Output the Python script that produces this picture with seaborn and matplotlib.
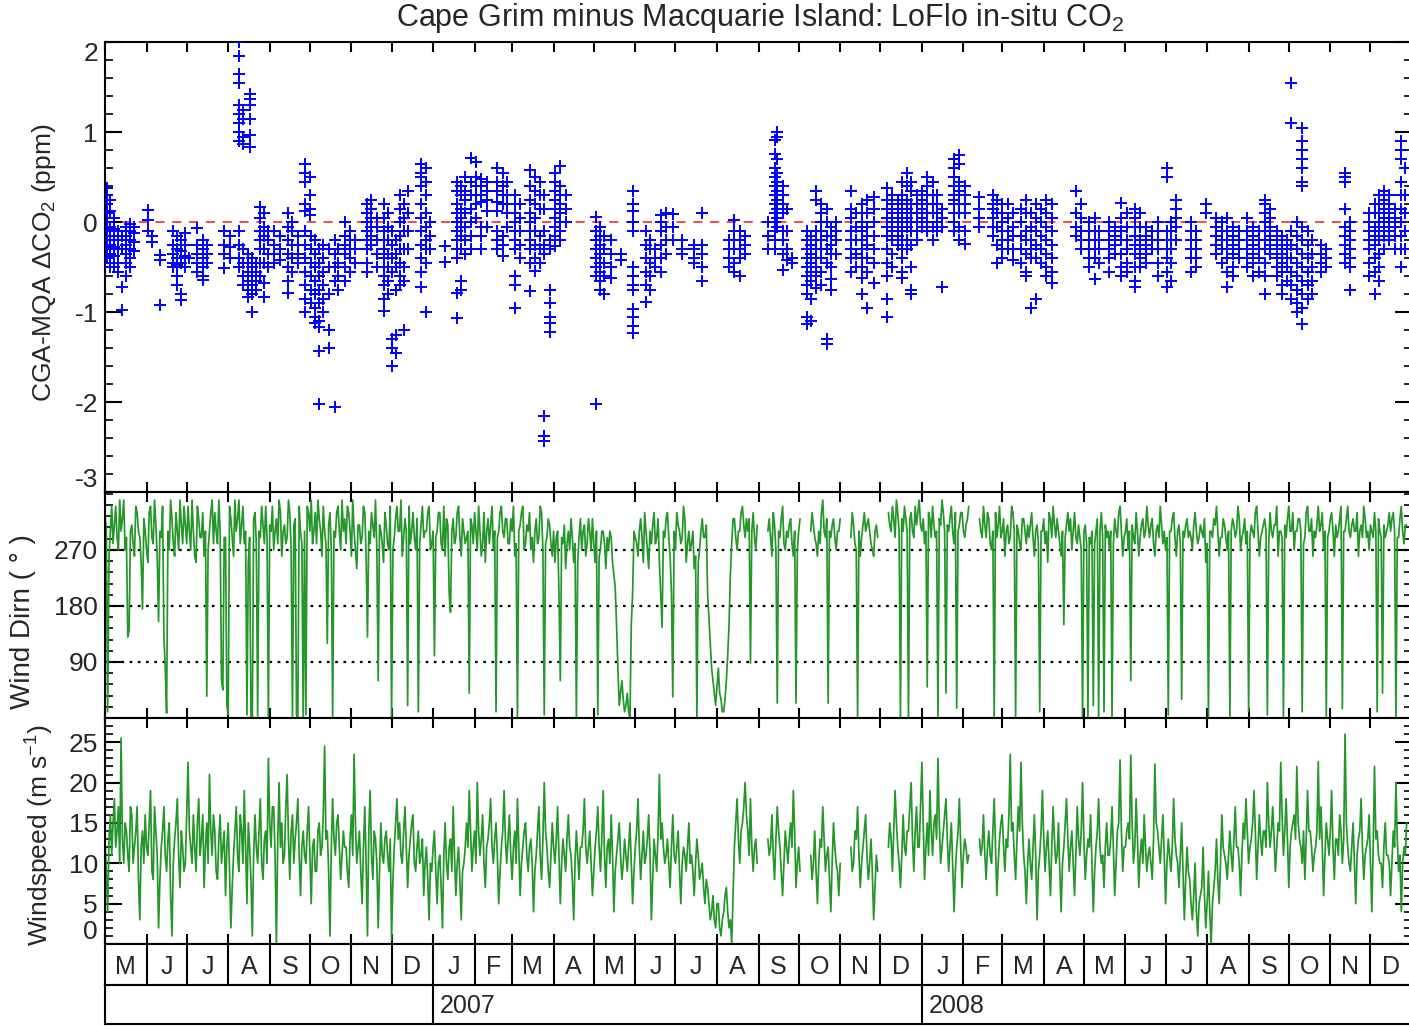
import numpy as np
import pandas as pd
import matplotlib
matplotlib.use("Agg")
import matplotlib.pyplot as plt
import seaborn as sns

# time axis: days since 1 May 2006, plot runs to 1 Jan 2009
start = pd.Timestamp("2006-05-01")
end = pd.Timestamp("2009-01-01")
month_letters = ["M", "J", "J", "A", "S", "O", "N", "D",
                 "J", "F", "M", "A", "M", "J", "J", "A", "S", "O", "N", "D",
                 "J", "F", "M", "A", "M", "J", "J", "A", "S", "O", "N", "D"]
year_labels = ["2007", "2008"]
year_starts = ["2007-01-01", "2008-01-01"]

# CO2 difference, columns of hourly values (day of column, ppm values)
co2_day = [1.5, 4, 7, 10, 12.5, 15.5, 18.5, 21.5, 32, 35, 41, 51, 54, 57, 60, 63, 69, 73, 76, 89, 93,
           100, 103, 107, 108, 110, 113, 116, 119, 122, 126, 130.5, 136.5, 140, 144, 149, 149.5, 153, 153.5,
           157, 160, 163, 167, 171.5, 174, 179, 183, 187, 196, 199, 203, 208, 211, 214, 217, 220, 223, 226,
           236, 239.5, 242.5, 254, 263, 266, 269, 273, 277, 281, 285, 292.5, 297, 300.5, 306, 310, 317, 321,
           325, 328, 332, 336, 339.5, 344, 367, 370, 373, 377.5, 385, 394, 404, 407, 411, 415, 419, 424, 431,
           440, 446, 466, 470, 474, 478, 495, 500, 502, 506, 509, 513, 524.5, 527.5, 531, 535, 539, 542.5,
           546, 557, 561, 565.5, 569, 574, 584, 588, 592, 595.5, 599, 602, 606, 610, 614, 618, 621.5, 625,
           634, 638, 642, 653, 663, 666, 670, 674, 678, 684, 688, 691.5, 695.5, 699, 703, 707, 725, 729,
           735, 739, 742.5, 750, 754, 759, 763, 769, 773, 777, 782, 786, 793, 796, 800, 811, 815, 822, 830,
           834, 838, 842, 847, 853, 857, 862, 866, 870, 875, 879, 883, 886, 890, 894, 898, 901.5, 908, 912,
           926, 930, 944, 948, 951.5, 955, 959, 963, 968, 971]
co2_ppm = [
    [0.38, 0.3, 0.2, 0.1, 0.0, -0.1, -0.2, -0.3, -0.4],
    [0.25, 0.12, -0.05, -0.15, -0.25, -0.35, -0.45, -0.5],
    [0.05, -0.08, -0.2, -0.28, -0.38, -0.5, -0.3],
    [-0.1, -0.2, -0.3, -0.45, -0.55],
    [-0.72, -0.98, -0.3, -0.15],
    [-0.05, -0.15, -0.25, -0.35, -0.45, -0.6],
    [-0.02, -0.1, -0.2, -0.3, -0.4, -0.5],
    [-0.05, -0.12, -0.22, -0.32],
    [0.13, 0.02, -0.1],
    [-0.15, -0.22],
    [-0.37, -0.42, -0.92],
    [-0.1, -0.25, -0.35, -0.45, -0.5],
    [-0.15, -0.3, -0.4, -0.48, -0.6, -0.7],
    [-0.2, -0.32, -0.45, -0.8, -0.87],
    [-0.12, -0.25, -0.38, -0.5],
    [-0.4],
    [-0.07, -0.25, -0.35, -0.45, -0.55],
    [-0.2, -0.3, -0.4, -0.5, -0.6, -0.64],
    [-0.25, -0.35, -0.45],
    [-0.1, -0.25, -0.35, -0.51],
    [-0.15, -0.28, -0.4],
    [2.0, 1.85, 1.65, 1.55, 1.3, 1.2, 1.1, 1.0, 0.9, -0.1, -0.25, -0.4, -0.5],
    [1.25, 1.15, 0.95, 0.87, -0.3, -0.45, -0.6, -0.7],
    [-0.35, -0.45, -0.55, -0.65, -0.75, -0.83],
    [1.42, 1.37, 1.3, 1.15, 0.97, 0.83],
    [-0.4, -0.5, -0.6, -0.7, -0.8, -1.0],
    [-0.45, -0.55, -0.65, -0.75],
    [0.17, 0.05, -0.1, -0.2, -0.3, -0.45, -0.6],
    [0.1, -0.05, -0.15, -0.3, -0.45, -0.68, -0.83],
    [-0.1, -0.2, -0.35, -0.5],
    [-0.1, -0.25, -0.35, -0.45],
    [-0.15, -0.3, -0.42],
    [0.1, -0.05, -0.2, -0.35, -0.5, -0.65, -0.79],
    [0.0, -0.1, -0.25, -0.4, -0.55],
    [-0.15, -0.25, -0.35, -0.45],
    [0.65, 0.55, 0.45, 0.2, 0.12],
    [-0.1, -0.25, -0.4, -0.55, -0.7, -0.85, -1.0],
    [0.5, 0.3, 0.15, 0.08],
    [-0.15, -0.3, -0.45, -0.6, -0.75, -0.9],
    [-0.2, -0.35, -0.5, -0.65, -0.8, -0.95, -1.05, -1.12],
    [-0.3, -0.45, -0.6, -0.75, -0.9, -1.1, -1.17, -1.43, -2.02],
    [-0.25, -0.4, -0.55, -0.7, -0.85, -1.0],
    [-0.3, -0.5, -0.8, -1.2, -1.4],
    [-0.2, -0.35, -0.5, -0.65, -2.06],
    [-0.3, -0.45, -0.6, -0.75],
    [0.0, -0.15, -0.25, -0.35, -0.5, -0.65],
    [-0.1, -0.2, -0.3, -0.4, -0.55],
    [-0.2, -0.3, -0.45],
    [0.2, 0.1, 0.0, -0.1, -0.2, -0.3, -0.45, -0.55],
    [0.25, 0.15, 0.05, -0.05, -0.15, -0.25],
    [0.05, -0.05, -0.2, -0.35, -0.5],
    [0.2, 0.05, -0.1, -0.2, -0.3, -0.4, -0.5, -0.6, -0.7, -0.85, -0.99],
    [0.1, -0.05, -0.2, -0.35, -0.5, -0.65, -0.8],
    [-0.1, -0.25, -0.4, -0.55, -1.3, -1.4, -1.6],
    [-0.2, -0.35, -0.5, -0.75, -1.25, -1.45],
    [0.3, 0.15, 0.0, -0.15, -0.3, -0.45, -0.6, -0.7],
    [0.2, 0.05, -0.1, -0.3, -0.5, -0.65, -1.2],
    [0.35, 0.1, -0.1, -0.3],
    [0.65, 0.55, 0.5, 0.4, 0.2, 0.05, -0.1, -0.25, -0.4, -0.55, -0.72],
    [0.6, 0.45, 0.3, 0.1, -0.05, -0.2, -0.3, -0.45, -1.0],
    [0.0, -0.15, -0.3],
    [-0.27, -0.44],
    [0.45, 0.35, 0.2, 0.1, 0.0, -0.1, -0.2, -0.3, -0.4, -0.79, -1.07],
    [0.4, 0.3, 0.15, 0.05, -0.05, -0.15, -0.3, -0.65, -0.75],
    [0.5, 0.35, 0.25, 0.1, -0.05, -0.2, -0.35],
    [0.71, 0.45, 0.3, 0.15, 0.0, -0.15, -0.3],
    [0.67, 0.5, 0.4, 0.3, 0.2, 0.05],
    [0.48, 0.4, 0.3, 0.22, -0.05, -0.15, -0.3],
    [0.45, 0.35, 0.25, 0.12, -0.05],
    [0.6, 0.45, 0.35, 0.22, 0.12, -0.1, -0.2, -0.3],
    [0.55, 0.4, 0.3, 0.2, -0.15, -0.25, -0.38],
    [0.45, 0.3, 0.2, 0.1, -0.05],
    [0.3, 0.2, 0.1, 0.0, -0.1, -0.2, -0.3, -0.6, -0.7, -0.96],
    [0.2, 0.05, -0.1, -0.25, -0.4],
    [0.58, 0.4, 0.25, 0.1, 0.0, -0.1, -0.2, -0.3, -0.45, -0.77],
    [0.5, 0.35, 0.2, 0.05, -0.1, -0.25, -0.4, -0.54],
    [0.45, 0.3, 0.15, -0.15, -0.3, -0.45],
    [0.3, 0.15, -0.1, -0.25, -0.35, -2.15, -2.38, -2.43],
    [-0.2, -0.3, -0.75, -0.9, -1.05, -1.12, -1.22],
    [0.55, 0.45, 0.35, 0.25, 0.15, 0.05, -0.05, -0.15, -0.27],
    [0.62, 0.4, 0.3, 0.2, 0.1, 0.0, -0.1, -0.2],
    [0.3, 0.15, 0.0],
    [0.06, -0.1, -0.2, -0.3, -0.4, -0.5, -0.6, -2.02],
    [-0.05, -0.15, -0.25, -0.35, -0.45, -0.55, -0.65, -0.75],
    [-0.15, -0.3, -0.45, -0.6, -0.8],
    [-0.2, -0.35, -0.5, -0.62],
    [-0.35, -0.42],
    [0.35, 0.2, 0.12, 0.0, -0.1, -0.5, -0.6, -0.7, -0.75, -0.97, -1.05, -1.15, -1.23],
    [-0.1, -0.25, -0.4, -0.55, -0.7, -0.89],
    [-0.2, -0.3, -0.45, -0.6, -0.75],
    [-0.3, -0.4, -0.5],
    [0.08, 0.0, -0.1, -0.25, -0.4, -0.55],
    [0.1, -0.05, -0.2, -0.35],
    [0.09, -0.05, -0.2],
    [-0.2, -0.3, -0.35],
    [-0.25, -0.3, -0.4, -0.45],
    [0.1, -0.25, -0.35, -0.5, -0.65],
    [-0.2, -0.3, -0.4, -0.5],
    [0.02, -0.1, -0.2, -0.3, -0.45, -0.55],
    [-0.1, -0.2, -0.3, -0.4, -0.6],
    [-0.15, -0.25, -0.35],
    [0.0, -0.15, -0.3],
    [0.91, 0.76, 0.6, 0.5, 0.4, 0.3, 0.2, 0.1, 0.0, -0.1, -0.2, -0.3],
    [1.0, 0.95, 0.7, 0.55, 0.45, 0.35, 0.25, 0.15, 0.05, -0.05],
    [0.4, 0.3, 0.2, 0.1, -0.1, -0.2, -0.35, -0.53],
    [0.15, -0.1, -0.3, -0.42],
    [-0.4, -0.45],
    [-0.1, -0.2, -0.3, -0.4, -0.5, -0.6, -0.7, -0.8, -1.05, -1.13],
    [-0.15, -0.25, -0.35, -0.45, -0.55, -0.65, -0.85, -1.1],
    [0.35, 0.25, -0.1, -0.2, -0.3, -0.4, -0.5, -0.6, -0.73],
    [0.2, 0.1, 0.0, -0.1, -0.2, -0.3, -0.4, -0.55, -0.7],
    [0.15, 0.0, -0.15, -0.3, -0.45, -1.3, -1.35],
    [-0.05, -0.15, -0.25, -0.35, -0.5, -0.63, -0.76],
    [0.0, -0.1, -0.2, -0.35],
    [0.35, 0.15, 0.05, -0.1, -0.2, -0.3, -0.4, -0.55],
    [0.1, -0.05, -0.2, -0.35, -0.5],
    [0.2, 0.1, 0.0, -0.1, -0.2, -0.3, -0.4, -0.5, -0.62, -0.8],
    [0.25, 0.1, -0.05, -0.15, -0.25, -0.4, -0.55, -0.96],
    [0.28, 0.15, 0.0, -0.15, -0.3, -0.45, -0.68],
    [0.38, 0.25, 0.15, 0.05, -0.05, -0.15, -0.3, -0.45, -0.6, -0.85, -1.05],
    [0.3, 0.2, 0.1, 0.0, -0.1, -0.2, -0.35, -0.5],
    [0.25, 0.15, 0.05, -0.05, -0.15, -0.25],
    [0.45, 0.3, 0.2, 0.1, 0.0, -0.1, -0.2, -0.3, -0.4, -0.55, -0.62],
    [0.54, 0.4, 0.25, 0.15, 0.05, -0.05, -0.2, -0.3],
    [0.45, 0.35, 0.2, 0.1, 0.0, -0.1, -0.25, -0.5, -0.75, -0.8],
    [0.3, 0.2, 0.1, 0.0, -0.1, -0.2],
    [0.35, 0.25, 0.15, 0.05, -0.05],
    [0.5, 0.4, 0.3, 0.2, 0.1, 0.0, -0.1],
    [0.45, 0.3, 0.2, 0.1, -0.05, -0.2],
    [0.3, 0.2, 0.1, 0.0, -0.1],
    [0.15, 0.05, -0.05, -0.72],
    [0.7, 0.6, 0.5, 0.4, 0.3, 0.25, 0.2, 0.1, 0.0, -0.1],
    [0.75, 0.65, 0.45, 0.35, 0.3, 0.2, 0.1, -0.05, -0.2],
    [0.4, 0.3, 0.2, 0.1, -0.1, -0.24],
    [0.28, 0.15, 0.05, -0.05],
    [0.3, 0.2, 0.15, 0.05, -0.05, -0.15],
    [0.25, 0.1, -0.05, -0.25, -0.45],
    [0.2, 0.1, 0.0, -0.1, -0.2, -0.3, -0.4],
    [0.2, 0.05, -0.1, -0.2, -0.3],
    [0.1, -0.05, -0.15, -0.3, -0.42],
    [0.15, 0.0, -0.15, -0.3, -0.45],
    [0.25, 0.1, -0.1, -0.2, -0.35, -0.55, -0.6],
    [0.1, -0.05, -0.2, -0.3, -0.4, -0.96],
    [0.2, 0.05, -0.1, -0.25, -0.4, -0.86],
    [0.15, 0.0, -0.15, -0.3, -0.45],
    [0.25, 0.1, -0.05, -0.2, -0.35, -0.5, -0.6],
    [0.2, 0.05, -0.1, -0.25, -0.4, -0.55, -0.68],
    [0.35, 0.1, -0.05, -0.15],
    [0.2, 0.05, -0.1, -0.2, -0.3],
    [0.0, -0.1, -0.2, -0.3, -0.4, -0.5],
    [0.05, -0.1, -0.2, -0.3, -0.4, -0.63],
    [-0.1, -0.2, -0.3, -0.45],
    [0.0, -0.1, -0.2, -0.3, -0.4, -0.55],
    [-0.05, -0.15, -0.25, -0.35],
    [0.21, 0.05, -0.1, -0.2, -0.35, -0.5, -0.6],
    [0.1, -0.05, -0.2, -0.3, -0.45, -0.55],
    [0.15, 0.05, -0.05, -0.15, -0.25, -0.35, -0.5, -0.65, -0.72],
    [0.1, -0.05, -0.2, -0.3, -0.4, -0.5],
    [-0.05, -0.15, -0.25, -0.35, -0.45],
    [-0.1, -0.2, -0.3],
    [0.0, -0.1, -0.2, -0.3, -0.45, -0.6],
    [0.6, 0.5, -0.1, -0.2, -0.3, -0.4, -0.55, -0.72],
    [0.0, -0.1, -0.2, -0.3, -0.45, -0.65],
    [0.25, 0.15, 0.05, -0.05, -0.2],
    [0.0, -0.1, -0.2, -0.3, -0.4, -0.55],
    [-0.1, -0.2, -0.3, -0.4, -0.5],
    [0.2, 0.1],
    [0.05, -0.05, -0.15, -0.25, -0.35],
    [0.0, -0.1, -0.2, -0.3, -0.45],
    [0.05, -0.1, -0.2, -0.3, -0.4, -0.55, -0.72],
    [-0.05, -0.15, -0.25, -0.35, -0.5, -0.6],
    [-0.1, -0.2, -0.3, -0.4],
    [0.05, -0.1, -0.2, -0.3, -0.4, -0.5],
    [-0.05, -0.15, -0.25, -0.35, -0.45, -0.6],
    [-0.1, -0.2, -0.3, -0.4, -0.55],
    [0.25, 0.2, 0.1, 0.0, -0.1, -0.2, -0.3, -0.45, -0.6, -0.8],
    [0.15, 0.05, -0.05, -0.15, -0.25, -0.35],
    [-0.1, -0.2, -0.3, -0.4, -0.5, -0.6],
    [-0.15, -0.25, -0.35, -0.45, -0.55, -0.7, -0.8],
    [-0.2, -0.3, -0.4, -0.5, -0.65],
    [1.55, 1.1, -0.1, -0.25, -0.4, -0.55, -0.7, -0.85],
    [0.0, -0.15, -0.3, -0.45, -0.6, -0.75, -0.9, -1.0],
    [1.05, 0.9, 0.8, 0.7, 0.6, 0.45, 0.4, -0.05, -0.2, -0.35, -0.5, -0.65, -0.8, -0.95, -1.13],
    [-0.1, -0.25, -0.4, -0.55, -0.7, -0.85],
    [-0.2, -0.35, -0.5, -0.65, -0.8],
    [-0.25, -0.35, -0.45, -0.55],
    [-0.3, -0.4, -0.5],
    [0.55, 0.5, 0.45, 0.15, -0.05, -0.15, -0.25, -0.35, -0.45],
    [0.0, -0.1, -0.2, -0.3, -0.4, -0.5, -0.76],
    [0.1, 0.0, -0.1, -0.2, -0.3, -0.45, -0.6],
    [0.2, 0.1, -0.05, -0.15, -0.25, -0.4, -0.55, -0.8],
    [0.3, 0.2, 0.1, 0.0, -0.1, -0.2, -0.35, -0.5, -0.65],
    [0.35, 0.25, 0.15, 0.05, -0.05, -0.15, -0.3],
    [0.3, 0.2, 0.1, 0.0, -0.1, -0.2],
    [0.15, 0.05, -0.05, -0.15, -0.3],
    [0.9, 0.8, 0.7, 0.45, 0.3, 0.15, 0.0, -0.15, -0.3, -0.5],
    [0.6, 0.3, 0.1, -0.1, -0.3],
]

nan = np.nan
# wind direction: values on even days (0, 2, 4, ...) and on odd days (1, 3, 5, ...)
wdir_even = [
    330, 10, 300, 280, 340, 270, 300, 350, 290, 140, 310, 260, 330, 290, 175,
    300, 250, 340, 280, 310, 155, 290, 130, 8, 270, 320, 260, 300, 350, 280,
    310, 340, 270, 300, 250, 320, 290, 260, 35, 300, 350, 330, 280, 300, 45,
    290, 5, 320, 260, 300, 350, 310, 280, 5, 290, 0, 330, 3, 290, 310,
    340, 0, 300, 270, 320, 350, 260, 310, 290, 330, 0, 320, 0, 300, 2,
    5, 330, 350, 300, 280, 320, 260, 300, 120, 330, 0, 290, 340, 270, 300,
    280, 330, 260, 300, 240, 310, 290, 330, 130, 280, 310, 350, 60, 300, 250,
    310, 270, 0, 290, 340, 300, 260, 320, 20, 280, 330, 270, 10, 310, 290,
    300, 340, 280, 100, 300, 330, 270, 260, 310, 170, 320, 290, 340, 260, 300,
    290, 40, 310, 330, 270, 300, 280, 250, 320, 310, 270, 10, 300, 340, 290,
    320, 280, 300, 260, 0, 310, 340, 280, 300, 270, 250, 320, 290, 330, 5,
    290, 310, 260, 250, 300, 60, 280, 240, 300, 320, 250, 0, 290, 270, 310,
    280, 300, 320, 250, 5, 270, 300, 240, 270, 290, 230, 150, 20, 60, 10,
    40, 0, 200, 290, 260, 320, 250, 300, 240, 280, 330, 290, 250, 146, 290,
    330, 260, 34, 270, 310, 280, 340, 250, 300, 280, 240, 0, 270, 320, 290,
    200, 120, 60, 20, 80, 30, 10, 60, 150, 280, 320, 270, 300, 340, 290,
    300, 88, 330, 270, nan, nan, nan, nan, 320, 260, 310, 24, 290, 340, 270,
    290, 320, 260, 24, 300, nan, nan, nan, nan, 330, 290, 260, 280, 350, 290,
    24, 290, 320, 270, 300, nan, nan, nan, nan, 330, 280, 0, 260, 310, 300,
    320, 280, 260, 310, nan, nan, nan, nan, 310, 340, 290, 330, 0, 300, 320,
    0, 330, 290, 310, 350, 300, 280, 50, 320, 340, 290, 0, 310, 330, 40,
    300, 340, 280, 16, 310, 330, 290, 320, nan, nan, nan, nan, 300, 340, 290,
    320, 270, 0, 290, 340, 300, 260, 310, 290, 330, 0, 300, 270, 320, 280,
    290, 330, 260, 310, 10, 300, 280, 250, 320, 340, 290, 300, 260, 150, 310,
    300, 270, 330, 280, 290, 0, 310, 0, 280, 20, 300, 0, 330, 10, 290,
    270, 0, 320, 290, 340, 260, 300, 270, 60, 290, 330, 260, 310, 290, 340,
    290, 320, 260, 310, 340, 280, 270, 5, 300, 330, 260, 310, 30, 290, 320,
    300, 270, 330, 280, 310, 290, 250, 0, 300, 320, 340, 260, 290, 310, 270,
    0, 320, 290, 340, 270, 300, 280, 10, 310, 290, 340, 260, 300, 320, 5,
    330, 290, 310, 260, 300, 0, 290, 340, 300, 270, 300, 320, 10, 290, 340,
    300, 260, 290, 340, 310, 270, 0, 300, 330, 260, 290, 320, 15, 300, 340,
    290, 320, 300, 260, 310, 340, 290, 270, 300, 330, 10, 300, 40, 290, 310,
    300, 330, 0, 290, 340, 280, 310,
]
wdir_odd = [
    300, 260, 340, 310, 290, 350, 320, 270, 130, 300, 280, 340, 300, 250, 320,
    270, 330, 290, 350, 260, 300, 340, 80, 300, 350, 280, 330, 270, 310, 340,
    280, 300, 350, 260, 340, 290, 330, 300, 270, 330, 280, 300, 350, 60, 290,
    20, 340, 290, 350, 320, 280, 340, 300, 250, 0, 320, 280, 300, 340, 280,
    290, 310, 340, 300, 280, 330, 300, 280, 350, 270, 310, 5, 340, 280, 300,
    340, 300, 280, 330, 350, 300, 340, 280, 310, 270, 300, 330, 300, 350, 320,
    340, 300, 350, 270, 310, 280, 340, 260, 300, 330, 290, 270, 310, 280, 330,
    280, 340, 270, 320, 300, 350, 290, 300, 340, 300, 290, 320, 280, 340, 300,
    330, 270, 300, 290, 330, 280, 340, 320, 200, 300, 280, 330, 290, 320, 280,
    300, 320, 280, 300, 340, 260, 330, 300, 280, 340, 300, 290, 330, 300, 320,
    280, 320, 340, 280, 300, 330, 270, 310, 330, 290, 300, 280, 340, 270, 280,
    320, 280, 300, 290, 200, 290, 310, 280, 270, 290, 280, 250, 320, 300, 260,
    320, 270, 280, 300, 260, 300, 280, 290, 300, 250, 210, 80, 40, 30, 20,
    10, 150, 300, 280, 300, 290, 330, 270, 300, 310, 280, 320, 200, 300, 320,
    290, 200, 300, 330, 300, 290, 320, 280, 270, 300, 260, 250, 300, 290, 310,
    160, 80, 40, 50, 40, 10, 30, 100, 230, 320, 290, 300, 330, 310, 320,
    320, 300, 290, 310, nan, nan, nan, 300, 290, 330, 270, 300, 320, 280, 300,
    310, 280, 300, 270, 320, nan, nan, nan, 300, 310, 280, 300, 330, 300, 320,
    300, 310, 290, 300, 320, nan, nan, nan, 290, 310, 270, 300, 290, 330, 310,
    300, 270, 300, 290, nan, nan, nan, 330, 300, 320, 350, 300, 320, 340, 300,
    320, 300, 340, 330, 310, 320, 300, 330, 290, 310, 300, 320, 350, 300, 310,
    320, 300, 330, 300, 330, 300, 310, 340, nan, nan, nan, 320, 290, 310, 330,
    280, 300, 330, 310, 290, 320, 300, 280, 340, 300, 310, 280, 320, 300, 310,
    310, 290, 300, 280, 300, 320, 300, 330, 290, 310, 320, 280, 300, 290, 330,
    320, 300, 290, 310, 270, 300, 280, 290, 300, 280, 320, 300, 290, 310, 300,
    300, 280, 300, 330, 300, 290, 320, 300, 310, 280, 300, 290, 320, 300, 310,
    310, 280, 300, 290, 310, 300, 290, 300, 320, 290, 300, 280, 300, 310, 290,
    290, 310, 300, 290, 300, 320, 280, 300, 290, 310, 300, 290, 320, 290, 300,
    300, 310, 300, 320, 290, 320, 300, 290, 300, 330, 300, 290, 310, 300, 280,
    300, 310, 340, 300, 290, 310, 320, 300, 330, 300, 320, 300, 280, 330, 300,
    320, 300, 310, 300, 330, 300, 290, 320, 300, 310, 300, 340, 300, 320, 300,
    310, 300, 330, 300, 290, 320, 300, 310, 290, 300, 320, 290, 310, 300, 330,
    320, 300, 290, 320, 300, 310,
]
# windspeed, same days
wspd_even = [
    13, 4, 16, 15, 12, 17, 25.5, 10, 14, 9, 16, 12, 17, 3, 14,
    16, 11, 19, 8, 14, 2, 12, 17, 9, 15, 1, 13, 18, 7, 12,
    10, 22.5, 12, 16, 9, 18, 13, 7, 15, 21, 11, 14, 8, 16, 12,
    6, 15, 2, 11, 17, 9, 14, 19, 5, 12, 1, 16, 10, 18, 8,
    14, 23, 12, 17, 0, 20, 15, 11, 21, 8, 16, 13, 18, 6, 14,
    10, 17, 5, 13, 9, 15, 12, 24.5, 14, 1, 18, 11, 16, 8, 14,
    12, 7, 16, 23.5, 10, 14, 5, 17, 1, 19, 8, 13, 2, 15, 10,
    14, 9, 0.5, 12, 18, 15, 10, 17, 7, 13, 16, 9, 14, 11, 6,
    12, 3, 9, 14, 5, 11, 2, 15, 8, 13, 17, 6, 12, 3, 10,
    15, 19, 9, 14, 20, 11, 16, 7, 13, 18, 10, 15, 5, 12, 19,
    10, 16, 8, 14, 18, 6, 12, 15, 9, 13, 4, 11, 17, 8, 20,
    12, 7, 15, 10, 17, 5, 13, 9, 16, 11, 3, 14, 8, 12, 18,
    10, 14, 6, 12, 17, 9, 19, 7, 13, 16, 4, 11, 15, 8, 13,
    9, 15, 5, 12, 18, 8, 14, 11, 16, 3, 13, 9, 21, 15, 10,
    13, 7, 16, 10, 14, 5, 12, 9, 15, 11, 6, 13, 8, 10, 5,
    7, 3, 6, 2, 5, 1, 4, 7, 2, 0, 12, 18, 10, 15, 20,
    14, 18, 9, 13, nan, nan, nan, nan, 11, 16, 8, 17, 12, 6, 14,
    10, 15, 19, 7, 12, nan, nan, nan, nan, 8, 14, 5, 13, 17, 9,
    12, 4, 15, 10, 6, nan, nan, nan, nan, 9, 14, 17, 7, 12, 16,
    8, 13, 3, 11, nan, nan, nan, nan, 15, 9, 19, 12, 7, 16, 11,
    14, 20, 9, 17, 12, 22.5, 8, 15, 19, 11, 16, 23, 10, 14, 18,
    9, 15, 4, 12, 18, 7, 13, 10, nan, nan, nan, nan, 11, 16, 8,
    14, 10, 18, 6, 13, 16, 9, 12, 23.5, 15, 8, 17, 22.5, 11, 5,
    13, 8, 16, 3, 11, 19, 9, 14, 6, 17, 10, 15, 4, 12, 18,
    9, 14, 6, 17, 11, 20, 8, 13, 16, 4, 12, 18, 10, 7, 15,
    11, 17, 6, 14, 22.8, 9, 12, 15, 23.4, 10, 18, 7, 13, 16, 9,
    12, 8, 22.3, 14, 10, 16, 5, 13, 9, 18, 11, 7, 15, 3, 12,
    8, 3, 10, 1, 6, 12, 2, 9, 0, 7, 13, 5, 16, 11, 8,
    14, 9, 17, 12, 6, 15, 18, 10, 13, 19, 8, 16, 11, 14, 20,
    12, 17, 9, 15, 22.5, 11, 18, 7, 14, 16, 22, 13, 10, 8, 19,
    14, 9, 12, 22.6, 17, 6, 15, 11, 19, 8, 13, 16, 10, 26, 12,
    9, 15, 5, 13, 18, 8, 12, 16, 4, 22, 14, 10, 7, 15, 11,
    6, 14, 20, 9, 4, 12, 15,
]
wspd_odd = [
    9, 13, 11, 18, 14, 10, 13, 15, 11, 17, 10, 14, 8, 12, 10,
    12, 15, 9, 17, 11, 8, 14, 11, 13, 6, 10, 15, 11, 14, 9,
    16, 14, 10, 12, 15, 11, 16, 12, 10, 14, 16, 9, 13, 10, 14,
    12, 9, 7, 14, 11, 16, 10, 12, 15, 8, 11, 12, 14, 10, 13,
    10, 15, 17, 11, 13, 12, 10, 17, 13, 14, 10, 15, 11, 12, 11,
    14, 11, 12, 9, 14, 11, 16, 13, 9, 12, 13, 15, 12, 11, 12,
    9, 13, 11, 15, 12, 9, 12, 10, 14, 11, 14, 10, 9, 11, 13,
    11, 13, 8, 15, 13, 11, 14, 12, 11, 15, 10, 12, 10, 13, 10,
    8, 10, 12, 9, 10, 7, 11, 10, 12, 9, 11, 10, 8, 9, 12,
    12, 14, 12, 10, 14, 13, 10, 12, 15, 12, 13, 11, 9, 14, 13,
    13, 11, 12, 10, 12, 10, 14, 11, 12, 10, 9, 14, 11, 13, 14,
    9, 11, 12, 13, 11, 10, 11, 13, 12, 8, 10, 11, 12, 14, 12,
    12, 10, 9, 14, 12, 13, 11, 12, 10, 11, 9, 13, 11, 10, 11,
    12, 10, 9, 14, 12, 11, 10, 13, 11, 8, 11, 14, 13, 12, 11,
    10, 12, 11, 12, 9, 10, 11, 12, 10, 9, 10, 11, 9, 7, 8,
    5, 4, 3, 5, 2, 3, 6, 4, 3, 6, 15, 13, 14, 17, 16,
    11, 12, 12, 10, nan, nan, nan, 13, 12, 11, 13, 14, 9, 10, 12,
    13, 12, 14, 10, 9, nan, nan, nan, 11, 10, 9, 10, 12, 13, 11,
    8, 10, 12, 9, 10, nan, nan, nan, 12, 10, 13, 11, 10, 14, 11,
    10, 9, 7, 9, nan, nan, nan, 12, 13, 14, 15, 10, 11, 12, 14,
    17, 13, 14, 12, 17, 15, 12, 11, 14, 15, 13, 15, 12, 16, 13,
    12, 10, 9, 14, 12, 11, 12, 11, nan, nan, nan, 13, 12, 11, 12,
    11, 14, 12, 10, 15, 12, 13, 16, 14, 11, 13, 14, 15, 9, 10,
    10, 12, 11, 9, 14, 13, 12, 10, 12, 13, 11, 9, 10, 15, 13,
    12, 10, 11, 13, 14, 13, 11, 12, 10, 9, 14, 12, 11, 12, 11,
    13, 12, 10, 15, 14, 12, 14, 13, 15, 12, 13, 11, 10, 12, 11,
    10, 13, 15, 12, 13, 11, 10, 11, 12, 13, 10, 11, 9, 8, 9,
    5, 6, 4, 5, 7, 6, 5, 4, 5, 9, 8, 10, 12, 10, 11,
    11, 13, 12, 10, 11, 13, 14, 12, 15, 14, 12, 13, 14, 12, 15,
    14, 13, 12, 14, 16, 14, 13, 12, 15, 13, 15, 12, 14, 13, 14,
    12, 11, 14, 13, 12, 11, 13, 14, 12, 13, 11, 14, 13, 15, 10,
    12, 10, 11, 14, 12, 11, 13, 10, 12, 13, 11, 10, 12, 11, 10,
    10, 12, 13, 11, 10, 11,
]

green = "#24962a"
blue = "#0000ff"

sns.set_theme(style="white")
plt.rcParams["font.family"] = ["Liberation Sans", "DejaVu Sans"]
plt.rcParams["mathtext.fontset"] = "custom"
plt.rcParams["mathtext.rm"] = "Liberation Sans"
plt.rcParams["mathtext.it"] = "Liberation Sans:italic"
plt.rcParams["axes.unicode_minus"] = False

co2 = pd.DataFrame({"day": np.repeat(co2_day, [len(v) for v in co2_ppm]),
                    "ppm": np.concatenate(co2_ppm)})


def segments(even, odd, name):
    d = pd.concat([
        pd.DataFrame({"day": np.arange(len(even)) * 2, name: even}),
        pd.DataFrame({"day": np.arange(len(odd)) * 2 + 1, name: odd}),
    ]).sort_values("day").reset_index(drop=True)
    d["seg"] = d[name].isna().cumsum()
    return d.dropna()


wdir = segments(wdir_even, wdir_odd, "dirn")
wspd = segments(wspd_even, wspd_odd, "speed")

bounds = pd.date_range(start, end, freq="MS")
bdays = np.array((bounds - start).days)
xmax = (end - start).days

fig = plt.figure(figsize=(14.09, 10.26), dpi=100)
L = 105 / 1409
W = 1307 / 1409
ax1 = fig.add_axes([L, 1 - 492 / 1026, W, 450 / 1026])
ax2 = fig.add_axes([L, 1 - 718 / 1026, W, 226 / 1026])
ax3 = fig.add_axes([L, 1 - 944 / 1026, W, 226 / 1026])
axm = fig.add_axes([L, 1 - 985 / 1026, W, 41 / 1026])
axy = fig.add_axes([L, 1 - 1024 / 1026, W, 39 / 1026])

# top panel: CO2 difference
ax1.axhline(0, color="#e02020", lw=1.1, ls=(0, (6, 5)), zorder=1)
sns.scatterplot(data=co2, x="day", y="ppm", marker="+", color=blue, s=85,
                linewidth=1.4, ax=ax1, zorder=3)
ax1.set_ylim(-3, 2)
ax1.set_yticks([-3, -2, -1, 0, 1, 2])
ax1.set_yticks(np.arange(-3, 2.01, 0.2), minor=True)
ax1.set_ylabel("CGA-MQA ΔCO$_2$ (ppm)", fontsize=19, va="center")
ax1.yaxis.set_label_coords(-0.047, 0.51)

# middle panel: wind direction
for h in [90, 180, 270]:
    ax2.axhline(h, color="black", lw=1.6, ls=(0, (1.2, 2.5)), zorder=1)
sns.lineplot(data=wdir, x="day", y="dirn", units="seg", estimator=None,
             color=green, lw=1.25, ax=ax2, zorder=2)
ax2.set_ylim(0, 363)
ax2.set_yticks([90, 180, 270])
ax2.set_yticks(np.arange(0, 361, 18), minor=True)
ax2.set_ylabel("Wind Dirn ( ° )", fontsize=20, va="center")
ax2.yaxis.set_label_coords(-0.063, 0.425)

# bottom panel: windspeed
sns.lineplot(data=wspd, x="day", y="speed", units="seg", estimator=None,
             color=green, lw=1.25, ax=ax3)
ax3.set_ylim(0, 28)
ax3.set_yticks([0, 5, 10, 15, 20, 25])
ax3.set_yticks(np.arange(0, 28.1, 1), minor=True)
ax3.set_ylabel("Windspeed (m s$^{-1}$)", fontsize=19, va="center")
ax3.yaxis.set_label_coords(-0.05, 0.48)

for ax in [ax1, ax2, ax3]:
    ax.set_xlim(0, xmax)
    ax.set_xticks(bdays)
    ax.set_xticklabels([])
    ax.set_xlabel("")
    ax.tick_params(axis="x", which="major", direction="in", top=True, bottom=True,
                   length=7, width=1.5, color="black")
    ax.tick_params(axis="y", which="major", direction="in", left=True, right=True,
                   length=12, width=1.5, color="black", labelsize=19, pad=5)
    ax.tick_params(axis="y", which="minor", direction="in", left=True, right=True,
                   length=6, width=1.2, color="black")
    for s in ax.spines.values():
        s.set_linewidth(1.5)
        s.set_color("black")

# keep the end labels inside their panel
ylabs1 = ax1.get_yticklabels()
ylabs1[0].set_va("bottom")
ylabs1[-1].set_va("top")
ax3.get_yticklabels()[0].set_va("bottom")

# month boxes
axm.set_xlim(0, xmax)
axm.set_ylim(0, 1)
for b in bdays[1:-1]:
    axm.axvline(b, color="black", lw=1.5)
mids = (bdays[:-1] + bdays[1:]) / 2
for m, lab in zip(mids, month_letters):
    axm.text(m, 0.45, lab, ha="center", va="center", fontsize=18)

# year row
axy.set_xlim(0, xmax)
axy.set_ylim(0, 1)
for ys, lab in zip(year_starts, year_labels):
    d = (pd.Timestamp(ys) - start).days
    axy.axvline(d, color="black", lw=1.5)
    axy.text(d + 5, 0.45, lab, ha="left", va="center", fontsize=18)

for ax in [axm, axy]:
    ax.set_xticks([])
    ax.set_yticks([])
    for s in ax.spines.values():
        s.set_linewidth(1.5)
        s.set_color("black")

fig.text(760 / 1409, 1 - 18 / 1026, "Cape Grim minus Macquarie Island: LoFlo in-situ CO$_2$",
         ha="center", va="center", fontsize=22)

fig.savefig("out.png", dpi=100)
